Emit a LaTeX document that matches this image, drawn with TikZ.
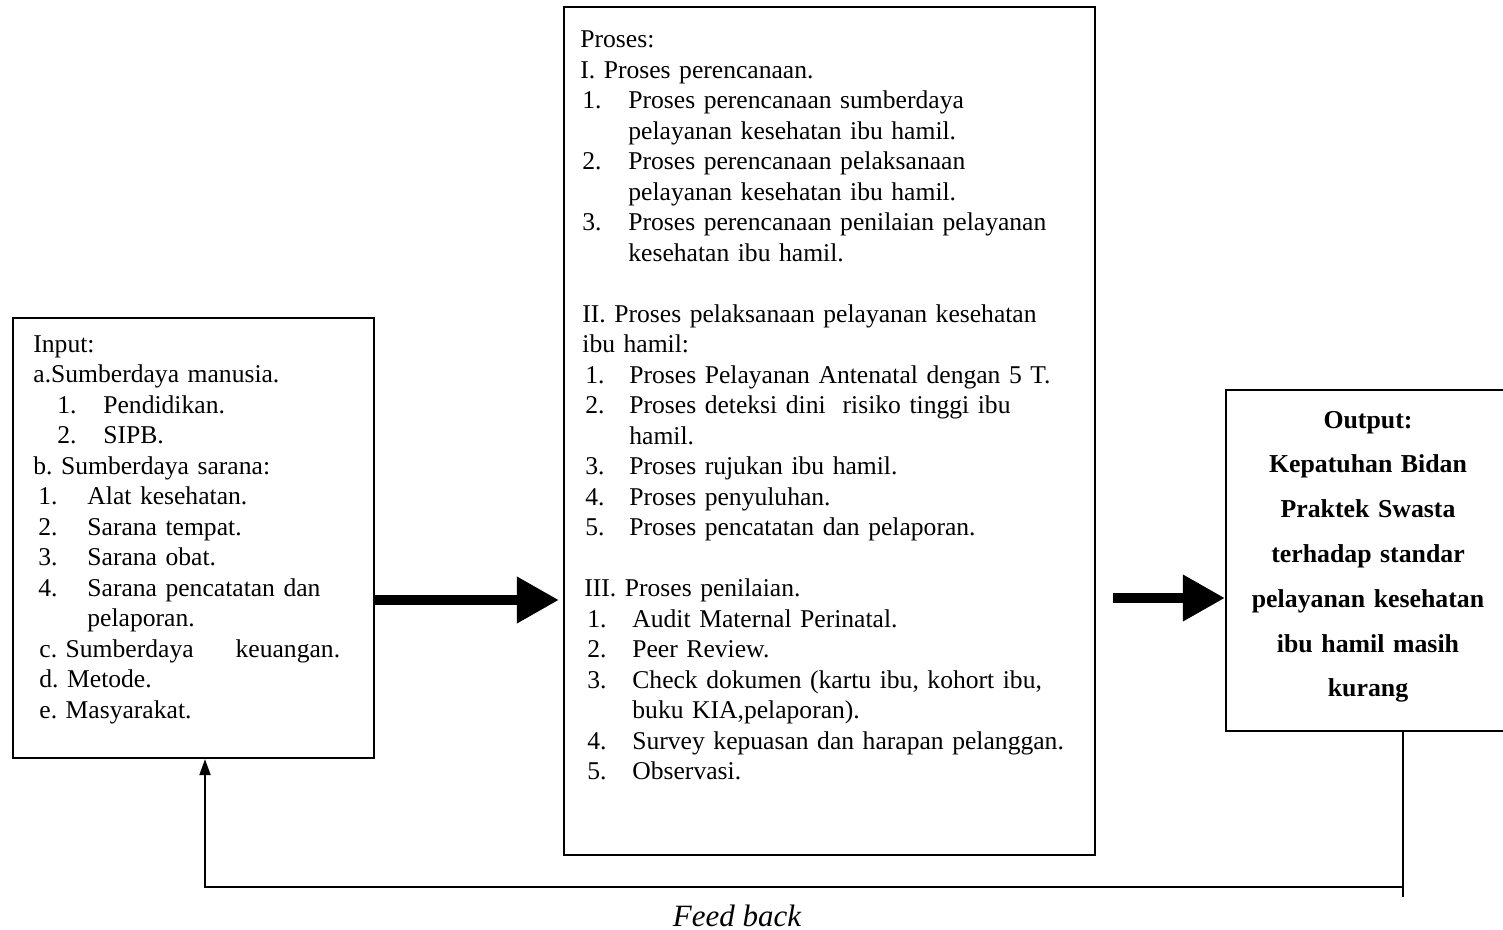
\documentclass[tikz,border=0pt]{standalone}
\usepackage{fontspec}
\setmainfont{Liberation Serif}
\usetikzlibrary{arrows.meta}
\frenchspacing

\tikzset{
  boxnode/.style={draw, rectangle, line width=1.1pt, inner sep=0pt},
  listtext/.style={anchor=base west, inner sep=0pt, text width=250pt, align=left,
    font=\fontsize{12.8}{15.25}\selectfont},
  fatarrow/.style={line width=5pt, -{Triangle[length=21pt,width=22pt]}},
  thinarrow/.style={line width=1pt, -{Triangle[length=8pt,width=5.5pt]}},
}
\newcommand{\nb}[2]{\makebox[#1][l]{#2}}

\begin{document}
\begin{tikzpicture}[x=0.5pt,y=0.5pt,yscale=-1,xscale=1]
\useasboundingbox (0,0) rectangle (1503,930);

% boxes
\node[boxnode, minimum width=180.5pt, minimum height=220pt] (input) at (193.5,538) {};
\node[boxnode, minimum width=265.5pt, minimum height=424pt] (proc) at (829.5,431) {};
\node[boxnode, minimum width=139.5pt, minimum height=170.5pt] (out) at (1365.5,560.5) {};

% input text
\node[listtext] (intext) at (33,352) {Input:\\
a.Sumberdaya manusia.\\
\hspace*{12pt}\nb{23pt}{1.}Pendidikan.\\
\hspace*{12pt}\nb{23pt}{2.}SIPB.\\
b. Sumberdaya sarana:\\
\hspace*{2.5pt}\nb{24.5pt}{1.}Alat kesehatan.\\
\hspace*{2.5pt}\nb{24.5pt}{2.}Sarana tempat.\\
\hspace*{2.5pt}\nb{24.5pt}{3.}Sarana obat.\\
\hspace*{2.5pt}\nb{24.5pt}{4.}Sarana pencatatan dan\\
\hspace*{27pt}pelaporan.\\
\hspace*{3pt}c. Sumberdaya\hspace{21pt}keuangan.\\
\hspace*{3pt}d. Metode.\\
\hspace*{3pt}e. Masyarakat.};

% process text
\node[listtext] (proctext) at (580,48) {Proses:\\
I. Proses perencanaan.\\
\hspace*{1pt}\nb{23pt}{1.}Proses perencanaan sumberdaya\\
\hspace*{24pt}pelayanan kesehatan ibu hamil.\\
\hspace*{1pt}\nb{23pt}{2.}Proses perencanaan pelaksanaan\\
\hspace*{24pt}pelayanan kesehatan ibu hamil.\\
\hspace*{1pt}\nb{23pt}{3.}Proses perencanaan penilaian pelayanan\\
\hspace*{24pt}kesehatan ibu hamil.\\
\mbox{}\\
\hspace*{1pt}II. Proses pelaksanaan pelayanan kesehatan\\
\hspace*{1pt}ibu hamil:\\
\hspace*{2.5pt}\nb{22pt}{1.}Proses Pelayanan Antenatal dengan 5 T.\\
\hspace*{2.5pt}\nb{22pt}{2.}Proses deteksi dini\ \ risiko tinggi ibu\\
\hspace*{24.5pt}hamil.\\
\hspace*{2.5pt}\nb{22pt}{3.}Proses rujukan ibu hamil.\\
\hspace*{2.5pt}\nb{22pt}{4.}Proses penyuluhan.\\
\hspace*{2.5pt}\nb{22pt}{5.}Proses pencatatan dan pelaporan.\\
\mbox{}\\
\hspace*{2pt}III. Proses penilaian.\\
\hspace*{3.5pt}\nb{22.5pt}{1.}Audit Maternal Perinatal.\\
\hspace*{3.5pt}\nb{22.5pt}{2.}Peer Review.\\
\hspace*{3.5pt}\nb{22.5pt}{3.}Check dokumen (kartu ibu, kohort ibu,\\
\hspace*{26pt}buku KIA,pelaporan).\\
\hspace*{3.5pt}\nb{22.5pt}{4.}Survey kepuasan dan harapan pelanggan.\\
\hspace*{3.5pt}\nb{22.5pt}{5.}Observasi.};

% output text
\node[anchor=base, inner sep=0pt, text width=135pt, align=center,
  font=\bfseries\fontsize{12.9}{22.4}\selectfont] (outtext) at (1368,428) {Output:\\
Kepatuhan Bidan\\
Praktek Swasta\\
terhadap standar\\
pelayanan kesehatan\\
ibu hamil masih\\
kurang};

% arrows
\coordinate (a1) at (0,600);
\coordinate (a2) at (1113,598);
\draw[fatarrow, shorten >=2pt] (input.east |- a1) -- (proc.west |- a1);
\draw[fatarrow] (a2) -- (out.west |- a2);

% feed back
\coordinate (fbr) at (1403,897);
\coordinate (fbl) at (205,887);
\draw[line width=1pt] (out.south -| fbr) -- (fbr);
\draw[thinarrow] (fbr |- fbl) -- (fbl) -- (input.south -| fbl);
\node[anchor=base, inner sep=0pt, font=\itshape\fontsize{15.5}{18}\selectfont] (fbtext) at (737,926) {Feed back};
\end{tikzpicture}
\end{document}
